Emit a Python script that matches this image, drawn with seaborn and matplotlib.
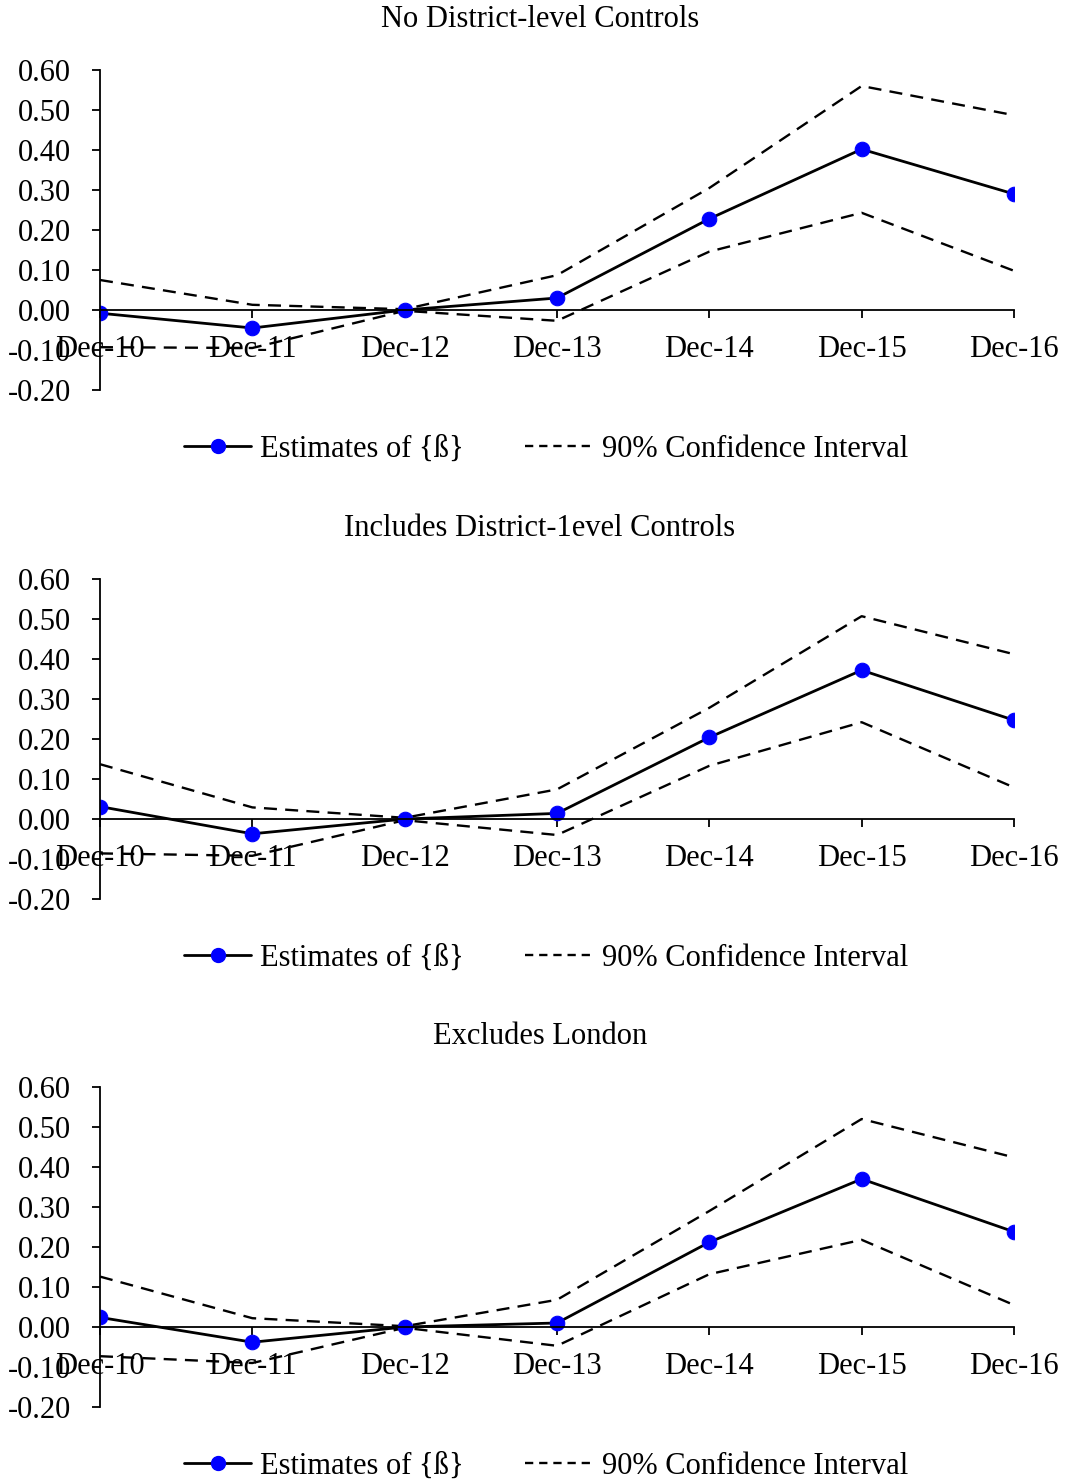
import pandas as pd
import matplotlib
matplotlib.use("Agg")
import matplotlib.pyplot as plt
import seaborn as sns
from matplotlib.ticker import FormatStrFormatter
from matplotlib.lines import Line2D

# periods on the x axis
periods = ["Dec-10", "Dec-11", "Dec-12", "Dec-13", "Dec-14", "Dec-15", "Dec-16"]

titles = ["No District-level Controls",
          "Includes District-1evel Controls",
          "Excludes London"]

# panel 1: no district-level controls
est_1 = [-0.008, -0.045, 0.0, 0.030, 0.228, 0.402, 0.290]
upper_1 = [0.075, 0.013, 0.002, 0.087, 0.305, 0.560, 0.487]
lower_1 = [-0.093, -0.095, -0.002, -0.027, 0.146, 0.243, 0.098]

# panel 2: includes district-level controls
est_2 = [0.031, -0.037, 0.0, 0.014, 0.204, 0.372, 0.247]
upper_2 = [0.137, 0.029, 0.003, 0.074, 0.278, 0.507, 0.412]
lower_2 = [-0.086, -0.092, -0.003, -0.040, 0.133, 0.242, 0.079]

# panel 3: excludes London
est_3 = [0.024, -0.038, 0.0, 0.010, 0.212, 0.370, 0.238]
upper_3 = [0.126, 0.022, 0.002, 0.068, 0.290, 0.520, 0.424]
lower_3 = [-0.073, -0.090, -0.002, -0.047, 0.132, 0.218, 0.055]

panels = [(est_1, upper_1, lower_1),
          (est_2, upper_2, lower_2),
          (est_3, upper_3, lower_3)]

sns.set_style("ticks")
plt.rcParams["font.family"] = ["Liberation Serif", "DejaVu Serif"]
plt.rcParams["axes.unicode_minus"] = False
plt.rcParams["text.color"] = "black"

fig = plt.figure(figsize=(10.65, 14.79), dpi=100)

W, H = 1065, 1479
ax_left, ax_w = 100 / W, 914 / W
ax_h = 320 / H
bottoms = [1 - 390 / H, 1 - 899 / H, 1 - 1407 / H]

for title, (est, upper, lower), bottom in zip(titles, panels, bottoms):
    ax = fig.add_axes([ax_left, bottom, ax_w, ax_h])
    x = list(range(len(periods)))

    ci = pd.DataFrame({"x": x * 2, "y": upper + lower,
                       "bound": ["upper"] * len(x) + ["lower"] * len(x)})
    sns.lineplot(data=ci, x="x", y="y", units="bound", estimator=None,
                 color="black", linewidth=1.7, linestyle=(0, (5.5, 3.5)),
                 ax=ax, legend=False)

    df = pd.DataFrame({"x": x, "y": est})
    sns.lineplot(data=df, x="x", y="y", color="black", linewidth=2.0,
                 marker="o", markersize=10.5, markerfacecolor="#0000FF",
                 markeredgecolor="#0000FF", ax=ax, legend=False)

    ax.set_xlim(0, 6)
    ax.set_ylim(-0.2, 0.6)
    ax.set_yticks([-0.2, -0.1, 0.0, 0.1, 0.2, 0.3, 0.4, 0.5, 0.6])
    ax.yaxis.set_major_formatter(FormatStrFormatter("%.2f"))
    ax.set_xticks(x)
    ax.set_xticklabels(periods)
    ax.set_xlabel("")
    ax.set_ylabel("")

    ax.spines["top"].set_visible(False)
    ax.spines["right"].set_visible(False)
    ax.spines["bottom"].set_position(("data", 0))
    for s in ["left", "bottom"]:
        ax.spines[s].set_linewidth(1.3)
        ax.spines[s].set_color("black")
    ax.tick_params(axis="both", direction="out", length=6, width=1.3,
                   colors="black", labelsize=22)
    ax.tick_params(axis="y", pad=15)
    ax.tick_params(axis="x", pad=12)

    ax.text(0.4814, 1.158, title, transform=ax.transAxes, ha="center",
            va="center", fontsize=22)

    handles = [Line2D([], [], color="black", linewidth=2.0, marker="o",
                      markersize=10, markerfacecolor="#0000FF",
                      markeredgecolor="#0000FF"),
               Line2D([], [], color="black", linewidth=1.7,
                      linestyle=(0, (3.5, 2.5)))]
    ax.legend(handles, ["Estimates of {ß}", "90% Confidence Interval"],
              loc="center", bbox_to_anchor=(0.488, -0.185), ncol=2,
              frameon=False, fontsize=22, handlelength=2.2,
              handletextpad=0.3, columnspacing=2.0)

fig.savefig("out.png", dpi=100)
